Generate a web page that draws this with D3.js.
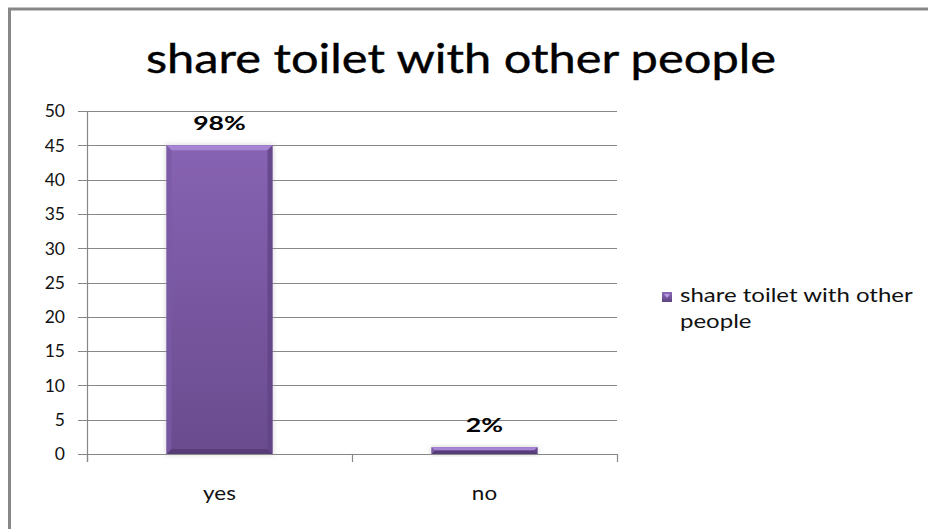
<!DOCTYPE html>
<html>
<head>
<meta charset="utf-8">
<script src="https://cdn.jsdelivr.net/npm/d3@7"></script>
<style>
  html, body { margin: 0; padding: 0; background: #fff; overflow: hidden; }
  svg { display: block; }
  text { font-family: Lato, "Open Sans", sans-serif; }
</style>
</head>
<body>
<svg id="chart" width="928" height="529"></svg>
<script>
const title = "share toilet with other people";
const categories = ["yes", "no"];
const values = [45, 1];
const valueLabels = ["98%", "2%"];
const seriesName = ["share toilet with other", "people"];
const yTicks = [0, 5, 10, 15, 20, 25, 30, 35, 40, 45, 50];

(function () {
const svg = d3.select("#chart");
const W = 928, H = 529;
const pLeft = 87, pRight = 617, pTop = 111, pBottom = 454;

// horizontally stretch text (the reference is slightly widened)
function stretch(sel, ratio) {
  sel.each(function () {
    const n = this.getComputedTextLength();
    this.setAttribute("textLength", n * ratio);
    this.setAttribute("lengthAdjust", "spacingAndGlyphs");
  });
}

// defs
const defs = svg.append("defs");
const g1 = defs.append("linearGradient").attr("id", "barGrad").attr("x1", 0).attr("y1", 0).attr("x2", 0).attr("y2", 1);
g1.append("stop").attr("offset", "0%").attr("stop-color", "#8763b3");
g1.append("stop").attr("offset", "100%").attr("stop-color", "#6a4b8e");
const g2 = defs.append("linearGradient").attr("id", "legGrad").attr("x1", 0).attr("y1", 0).attr("x2", 0).attr("y2", 1);
g2.append("stop").attr("offset", "0%").attr("stop-color", "#8a6ab8");
g2.append("stop").attr("offset", "100%").attr("stop-color", "#5e4282");
const blur = defs.append("filter").attr("id", "shadow").attr("x", "-20%").attr("y", "-20%").attr("width", "140%").attr("height", "140%");
blur.append("feGaussianBlur").attr("stdDeviation", 2.5);

svg.append("rect").attr("width", W).attr("height", H).attr("fill", "#fff");

// outer border (extends beyond right and bottom edges)
svg.append("rect").attr("x", 9.5).attr("y", 9).attr("width", 940).attr("height", 560)
  .attr("fill", "none").attr("stroke", "#878787").attr("stroke-width", 3);

// title
svg.append("text").attr("x", 461).attr("y", 73).attr("text-anchor", "middle")
  .attr("font-size", 40).attr("fill", "#000").attr("stroke", "#000").attr("stroke-width", 0.4)
  .text(title).call(stretch, 1.22);

const x = d3.scaleBand().domain(categories).range([pLeft, pRight]).paddingInner(0.6).paddingOuter(0.3);
const y = d3.scaleLinear().domain([0, 50]).range([pBottom, pTop]);

// gridlines
svg.append("g").selectAll("line").data(yTicks).join("line")
  .attr("x1", pLeft - 9).attr("x2", pRight)
  .attr("y1", d => Math.round(y(d)) + 0.5).attr("y2", d => Math.round(y(d)) + 0.5)
  .attr("stroke", "#878787").attr("stroke-width", 1.2);

// y axis line
svg.append("line").attr("x1", pLeft + 0.5).attr("x2", pLeft + 0.5).attr("y1", y(50)).attr("y2", pBottom + 8)
  .attr("stroke", "#878787").attr("stroke-width", 1.2);

// x category tick marks at band boundaries
const xEdges = [pLeft, (pLeft + pRight) / 2, pRight];
svg.append("g").selectAll("line").data(xEdges).join("line")
  .attr("x1", d => Math.round(d) + 0.5).attr("x2", d => Math.round(d) + 0.5)
  .attr("y1", pBottom).attr("y2", pBottom + 8)
  .attr("stroke", "#878787").attr("stroke-width", 1.2);

// y labels
svg.append("g").selectAll("text").data(yTicks).join("text")
  .attr("x", 65).attr("y", d => y(d)).attr("dy", "0.36em").attr("text-anchor", "end")
  .attr("font-size", 17.5).attr("fill", "#111").text(d => d);

// x labels
svg.append("g").selectAll("text").data(categories).join("text")
  .attr("x", d => x(d) + x.bandwidth() / 2).attr("y", 500).attr("text-anchor", "middle")
  .attr("font-size", 19).attr("fill", "#111").text(d => d).call(stretch, 1.18);

// bars
const bars = svg.append("g").selectAll("g").data(categories.map((c, i) => ({c, v: values[i], l: valueLabels[i]}))).join("g");
bars.append("rect")
  .attr("x", d => x(d.c) - 1).attr("y", d => y(d.v) - 1)
  .attr("width", x.bandwidth() + 2).attr("height", d => y(0) - y(d.v) + 2)
  .attr("fill", "#999").attr("opacity", 0.35).attr("filter", "url(#shadow)");
bars.append("rect")
  .attr("x", d => x(d.c)).attr("y", d => y(d.v))
  .attr("width", x.bandwidth()).attr("height", d => y(0) - y(d.v))
  .attr("fill", "url(#barGrad)");
// bevels
function bev(d) {
  const x0 = x(d.c), x1 = x(d.c) + x.bandwidth(), y0 = y(d.v), y1 = y(0);
  const b = Math.min(5, (y1 - y0) / 2);
  return {x0, x1, y0, y1, b};
}
bars.append("polygon").attr("points", d => { const p = bev(d);
  return [[p.x0, p.y0], [p.x1, p.y0], [p.x1 - p.b, p.y0 + p.b], [p.x0 + p.b, p.y0 + p.b]].join(" "); })
  .attr("fill", "#a585d4");
bars.append("polygon").attr("points", d => { const p = bev(d);
  return [[p.x0, p.y1], [p.x1, p.y1], [p.x1 - p.b, p.y1 - p.b], [p.x0 + p.b, p.y1 - p.b]].join(" "); })
  .attr("fill", "#573c78");
bars.append("polygon").attr("points", d => { const p = bev(d);
  return [[p.x0, p.y0], [p.x0 + p.b, p.y0 + p.b], [p.x0 + p.b, p.y1 - p.b], [p.x0, p.y1]].join(" "); })
  .attr("fill", "#7a5aa5").attr("opacity", 0.8);
bars.append("polygon").attr("points", d => { const p = bev(d);
  return [[p.x1, p.y0], [p.x1 - p.b, p.y0 + p.b], [p.x1 - p.b, p.y1 - p.b], [p.x1, p.y1]].join(" "); })
  .attr("fill", "#5f4485").attr("opacity", 0.8);

// value labels
bars.append("text")
  .attr("x", d => x(d.c) + x.bandwidth() / 2).attr("y", d => y(d.v) - 15)
  .attr("text-anchor", "middle").attr("font-size", 19).attr("font-weight", "bold")
  .attr("fill", "#000").text(d => d.l).call(stretch, 1.4);

// legend
const lg = svg.append("g").attr("transform", "translate(662,302)");
lg.append("rect").attr("y", -10).attr("width", 10).attr("height", 10).attr("fill", "url(#legGrad)");
lg.append("polygon").attr("points", "2,-8 8,-8 5,-4").attr("fill", "#b79be0");
lg.selectAll("text.leg").data(seriesName).join("text").attr("class", "leg")
  .attr("x", 18).attr("y", (d, i) => i * 26)
  .attr("font-size", 20).attr("fill", "#111").text(d => d).call(stretch, 1.2);
})();
</script>
</body>
</html>
